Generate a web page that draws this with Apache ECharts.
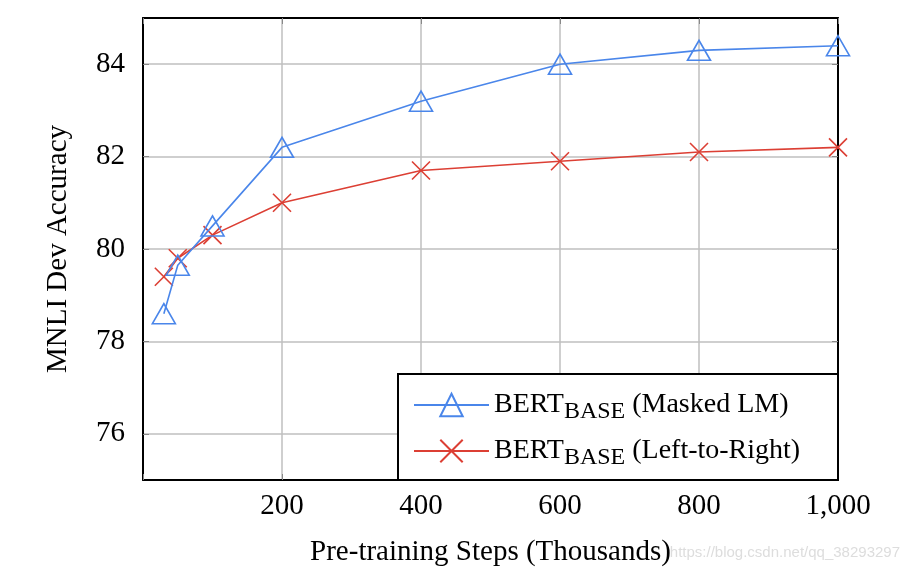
<!DOCTYPE html>
<html>
<head>
<meta charset="utf-8">
<script src="https://cdn.jsdelivr.net/npm/echarts@6/dist/echarts.min.js"></script>
<style>
  html, body { margin: 0; padding: 0; background: #fff; }
  #main { width: 912px; height: 576px; }
</style>
</head>
<body>
<div id="main"></div>
<script>
// pre-training steps (thousands)
var steps = [30, 50, 100, 200, 400, 600, 800, 1000];
// MNLI dev accuracy
var maskedLM = [78.6, 79.65, 80.5, 82.2, 83.2, 84.0, 84.3, 84.4];
var leftToRight = [79.4, 79.8, 80.3, 81.0, 81.7, 81.9, 82.1, 82.2];
var yTicks = [76, 78, 80, 82, 84];

var serif = '"Liberation Serif", "DejaVu Serif", serif';
var blue = '#4a86ea';
var red = '#dc3f34';

function pairs(xs, ys) {
    return xs.map(function (x, i) { return [x, ys[i]]; });
}

var myChart = echarts.init(document.getElementById('main'));

var tickStyle = { show: true, inside: true, length: 6, lineStyle: { color: '#888', width: 1 } };

var option = {
    animation: false,
    backgroundColor: '#fff',
    grid: { left: 143, top: 18, right: 74, bottom: 96, show: false },
    xAxis: [{
        type: 'value',
        min: 0, max: 1000, interval: 200,
        name: 'Pre-training Steps (Thousands)',
        nameLocation: 'middle',
        nameGap: 58,
        nameTextStyle: { fontFamily: serif, fontSize: 29, color: '#000' },
        axisLine: { show: true, onZero: false, lineStyle: { color: '#000', width: 2 } },
        axisTick: tickStyle,
        axisLabel: {
            fontFamily: serif, fontSize: 29, color: '#000', margin: 12,
            formatter: function (v) { return v === 0 ? '' : (v >= 1000 ? '1,000' : String(v)); }
        },
        splitLine: { show: true, lineStyle: { color: '#bfbfbf', width: 1.5 } }
    }, {
        type: 'value', position: 'top',
        min: 0, max: 1000, interval: 200,
        axisLine: { show: true, onZero: false, lineStyle: { color: '#000', width: 2 } },
        axisTick: tickStyle,
        axisLabel: { show: false },
        splitLine: { show: false }
    }],
    yAxis: [{
        type: 'value',
        min: 75, max: 85, interval: 1,
        name: 'MNLI Dev Accuracy',
        nameLocation: 'middle',
        nameGap: 70,
        nameTextStyle: { fontFamily: serif, fontSize: 29, color: '#000' },
        axisLine: { show: true, onZero: false, lineStyle: { color: '#000', width: 2 } },
        axisTick: Object.assign({ customValues: yTicks }, tickStyle),
        axisLabel: { customValues: yTicks, fontFamily: serif, fontSize: 29, color: '#000', margin: 18 },
        splitLine: { show: true, lineStyle: { color: '#bfbfbf', width: 1.5 } }
    }, {
        type: 'value', position: 'right',
        min: 75, max: 85, interval: 1,
        axisLine: { show: true, onZero: false, lineStyle: { color: '#000', width: 2 } },
        axisTick: Object.assign({ customValues: yTicks }, tickStyle),
        axisLabel: { show: false },
        splitLine: { show: false }
    }],
    legend: {
        z: 10,
        orient: 'vertical',
        left: 408, top: 386,
        itemWidth: 75, itemHeight: 28, itemGap: 13,
        textStyle: {
            fontFamily: serif, fontSize: 28, color: '#000',
            rich: {
                a: { fontFamily: serif, fontSize: 28, color: '#000', lineHeight: 30 },
                s: { fontFamily: serif, fontSize: 24, color: '#000', lineHeight: 30, verticalAlign: 'bottom', padding: [0, 0, -4, 0] }
            }
        },
        formatter: function (name) {
            return name === 'masked' ? '{a|BERT}{s|BASE}{a| (Masked LM)}' : '{a|BERT}{s|BASE}{a| (Left-to-Right)}';
        }
    },
    graphic: [{
        type: 'rect', z: 4,
        shape: { x: 398, y: 374, width: 440, height: 106 },
        style: { fill: '#fff', stroke: '#000', lineWidth: 2 }
    }, {
        type: 'text', z: 0, right: 12, top: 545,
        style: { text: 'https://blog.csdn.net/qq_38293297', font: '15px "Liberation Sans", Arial, sans-serif', fill: '#dddddd' }
    }],
    series: [{
        name: 'masked',
        type: 'line',
        data: pairs(steps, maskedLM),
        symbol: 'triangle',
        symbolSize: [23, 20],
        itemStyle: { color: 'rgba(255,255,255,0)', borderColor: blue, borderWidth: 1.6 },
        lineStyle: { color: blue, width: 1.6 },
        z: 3
    }, {
        name: 'ltr',
        type: 'line',
        data: pairs(steps, leftToRight),
        symbol: 'path://M0,0L10,10M10,0L0,10',
        symbolSize: 18,
        itemStyle: { color: 'rgba(255,255,255,0)', borderColor: red, borderWidth: 1.6 },
        lineStyle: { color: red, width: 1.6 },
        z: 2
    }]
};

myChart.setOption(option);
</script>
</body>
</html>
